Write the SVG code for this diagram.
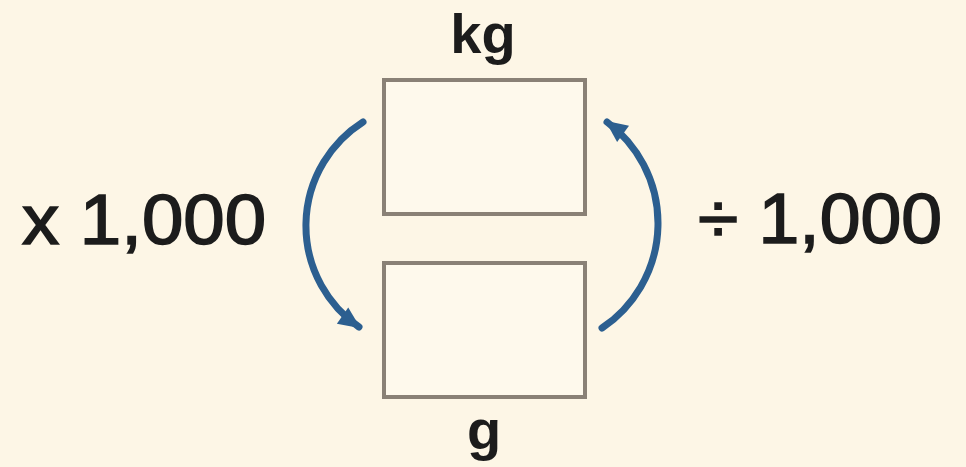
<svg xmlns="http://www.w3.org/2000/svg" width="966" height="467" viewBox="0 0 966 467">
<style>
.bg{fill:#fdf6e6}
.box{fill:#fef9ec;stroke:#8a8176;stroke-width:4}
.lbl{font-family:"Liberation Sans",Arial,sans-serif;font-weight:bold;fill:#1c1c1c;text-anchor:middle}
.op{font-family:"Liberation Sans",Arial,sans-serif;fill:#1c1c1c;stroke:#1c1c1c;stroke-width:1.6;font-size:70px}
.arc{fill:none;stroke:#2c5f90;stroke-width:7;stroke-linecap:round}
</style>
<defs>
<marker id="ah" markerUnits="userSpaceOnUse" markerWidth="26" markerHeight="26" viewBox="0 0 26 26" refX="22" refY="13" orient="auto">
<path d="M2,3 L24,13 L2,23 Z" fill="#2c5f90"/>
</marker>
</defs>
<rect class="bg" x="0" y="0" width="966" height="467"/>
<g id="node-kg">
<rect class="box" x="384" y="80" width="201" height="134"/>
<text class="lbl" x="483" y="53" font-size="56">kg</text>
</g>
<g id="node-g">
<rect class="box" x="384" y="263" width="201" height="134"/>
<text class="lbl" x="484" y="449" font-size="56">g</text>
</g>
<g id="label-times">
<text class="op" x="22" y="244" textLength="244" lengthAdjust="spacingAndGlyphs">x 1,000</text>
</g>
<g id="label-divide">
<text class="op" x="698" y="243" textLength="244" lengthAdjust="spacingAndGlyphs">÷ 1,000</text>
</g>
<g id="connectors">
<path class="arc" d="M363,122 A123,123 0 0 0 359,327" marker-end="url(#ah)"/>
<path class="arc" d="M602,328 A126,126 0 0 0 607,122" marker-end="url(#ah)"/>
</g>
</svg>
